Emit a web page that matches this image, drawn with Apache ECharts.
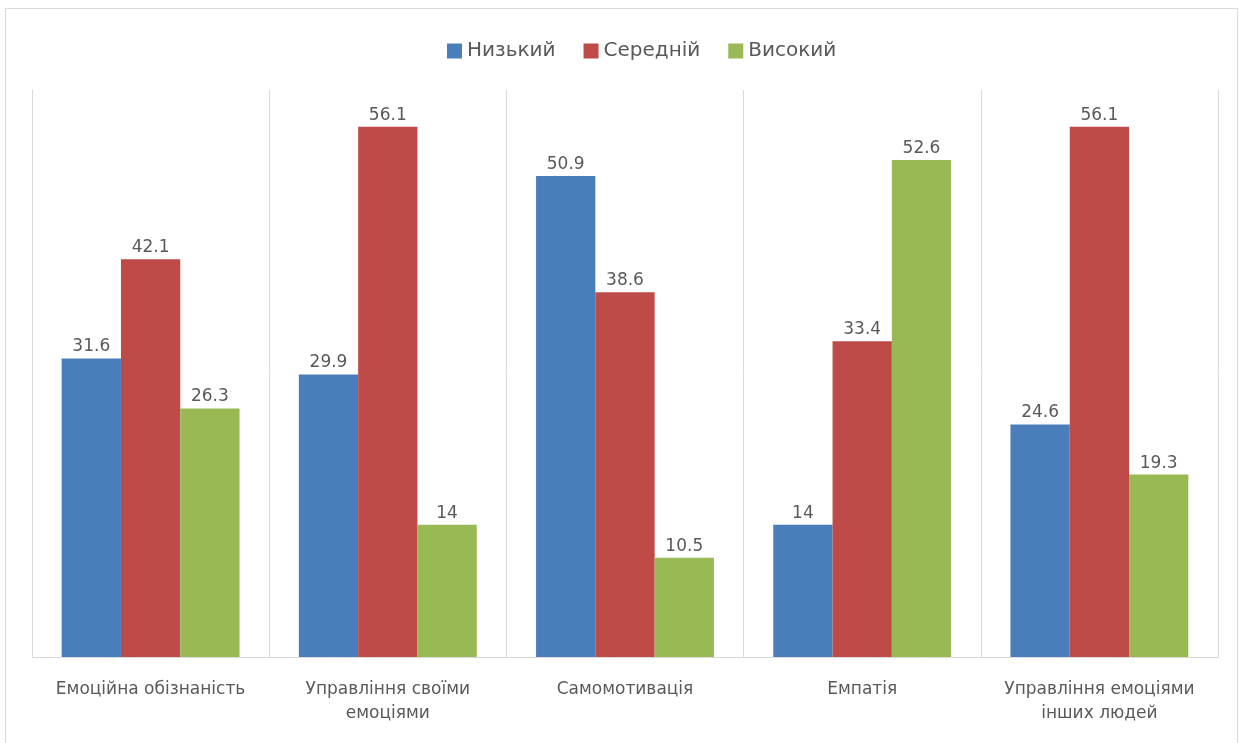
<!DOCTYPE html>
<html>
<head>
<meta charset="utf-8">
<script src="https://cdn.jsdelivr.net/npm/echarts@6/dist/echarts.min.js"></script>
<style>
  html, body { margin: 0; padding: 0; background: #fff; }
  #frame {
    position: absolute; left: 5px; top: 8px; width: 1233px; height: 760px;
    border: 1px solid #d9d9d9; box-sizing: border-box;
  }
  #chart { position: absolute; left: 0; top: 0; width: 1247px; height: 743px; }
</style>
</head>
<body>
<div id="frame"></div>
<div id="chart"></div>
<script>
const categories = [
  'Емоційна обізнаність',
  'Управління своїми\nемоціями',
  'Самомотивація',
  'Емпатія',
  'Управління емоціями\nінших людей',
];
const lowValues = [31.6, 29.9, 50.9, 14, 24.6];
const midValues = [42.1, 56.1, 38.6, 33.4, 56.1];
const highValues = [26.3, 14, 10.5, 52.6, 19.3];

const fontFamily = '"DejaVu Sans", "Noto Sans", sans-serif';
const textColor = '#595959';

const makeSeries = (name, data, color) => ({
  name,
  type: 'bar',
  data,
  barGap: '0%',
  barCategoryGap: '25%',
  itemStyle: { color },
  label: {
    show: true,
    position: 'top',
    distance: 3,
    color: textColor,
    fontSize: 17,
    fontFamily,
  },
});

const chart = echarts.init(document.getElementById('chart'));
chart.setOption({
  animation: false,
  legend: {
    top: 36,
    left: 442,
    itemWidth: 15,
    itemHeight: 15,
    itemGap: 28,
    icon: 'rect',
    textStyle: { color: textColor, fontSize: 20, fontFamily },
  },
  grid: { left: 32, right: 29, top: 90, bottom: 86 },
  xAxis: {
    type: 'category',
    data: categories,
    axisLine: { lineStyle: { color: '#d9d9d9' } },
    axisTick: { show: false },
    splitLine: { show: true, lineStyle: { color: '#d9d9d9' } },
    axisLabel: {
      color: textColor,
      fontSize: 17,
      fontFamily,
      margin: 21,
      lineHeight: 24,
      interval: 0,
    },
  },
  yAxis: {
    type: 'value',
    min: 0,
    max: 60,
    axisLabel: { show: false },
    axisTick: { show: false },
    axisLine: { show: true, lineStyle: { color: '#d9d9d9' } },
    splitLine: { show: false },
  },
  series: [
    makeSeries('Низький', lowValues, '#4a7ebb'),
    makeSeries('Середній', midValues, '#be4b48'),
    makeSeries('Високий', highValues, '#98b954'),
  ],
});
</script>
</body>
</html>
